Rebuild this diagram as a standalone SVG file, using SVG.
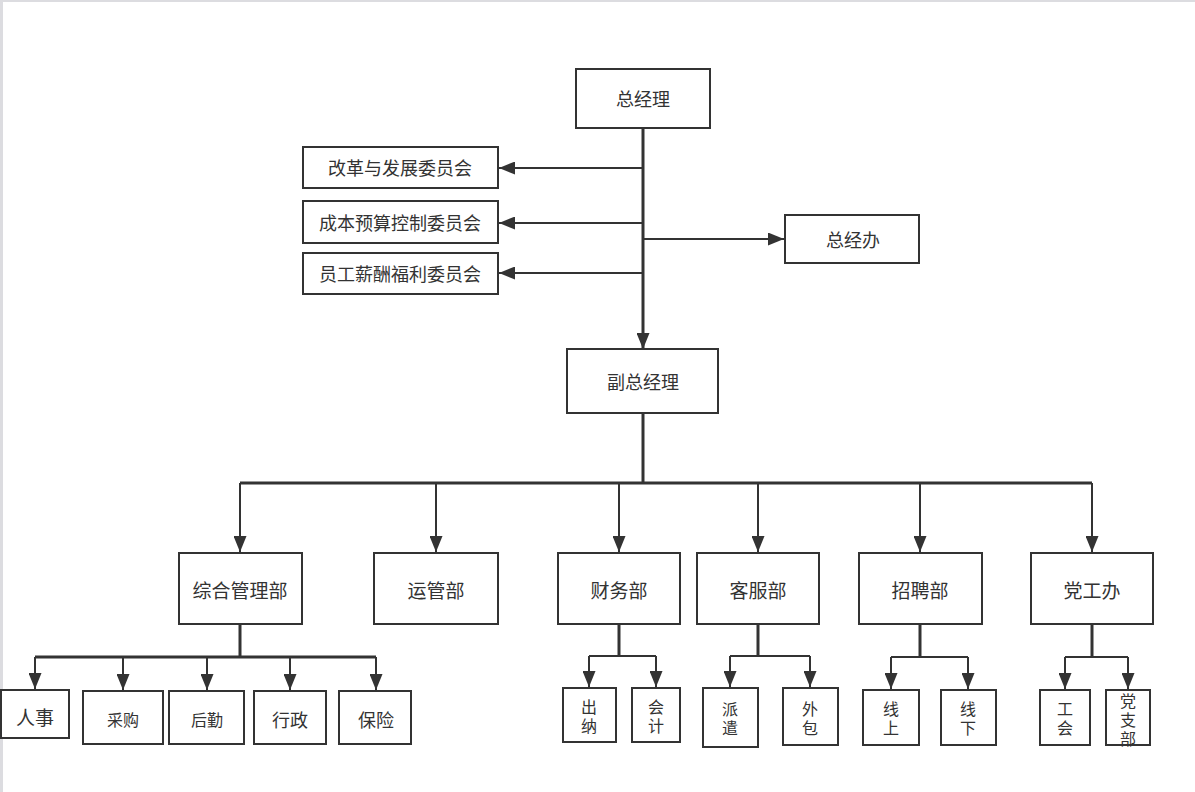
<svg xmlns="http://www.w3.org/2000/svg" width="1195" height="792" viewBox="0 0 1195 792">
<style>
.box{fill:#fff;stroke:#333;stroke-width:2}
.t{font-family:"Noto Sans CJK SC","Noto Sans",sans-serif;fill:#333;text-anchor:middle;dominant-baseline:central}
.v{font-family:"Noto Sans CJK SC","Noto Sans",sans-serif;fill:#333;text-anchor:middle;dominant-baseline:central;writing-mode:vertical-rl;font-size:16px;letter-spacing:3px}
.l{fill:none;stroke:#333;stroke-width:2}
.th{fill:none;stroke:#333;stroke-width:3}
</style>
<defs>
<marker id="arr" markerUnits="userSpaceOnUse" markerWidth="16" markerHeight="13" refX="16" refY="6.5" orient="auto">
<path d="M0,0 L16,6.5 L0,13 z" fill="#333"/>
</marker>
</defs>
<rect x="0" y="0" width="1195" height="792" fill="#fff"/>
<rect x="0" y="0" width="3" height="792" fill="#dcdce0"/>
<rect x="0" y="0" width="1195" height="2" fill="#dcdce0"/>

<g id="connectors">
<path class="th" d="M643,128 V349" marker-end="url(#arr)"/>
<path class="l" d="M643,168 H499" marker-end="url(#arr)"/>
<path class="l" d="M643,223 H499" marker-end="url(#arr)"/>
<path class="l" d="M643,273 H499" marker-end="url(#arr)"/>
<path class="l" d="M643,239 H784" marker-end="url(#arr)"/>
<path class="th" d="M643,413 V483"/>
<path class="th" d="M240,483 H1092"/>
<path class="l" d="M240,483 V552" marker-end="url(#arr)"/>
<path class="l" d="M436,483 V552" marker-end="url(#arr)"/>
<path class="l" d="M619,483 V552" marker-end="url(#arr)"/>
<path class="l" d="M758,483 V552" marker-end="url(#arr)"/>
<path class="l" d="M920,483 V552" marker-end="url(#arr)"/>
<path class="l" d="M1092,483 V552" marker-end="url(#arr)"/>

<path class="th" d="M240,624 V657"/>
<path class="th" d="M35,657 H376"/>
<path class="l" d="M35,657 V689" marker-end="url(#arr)"/>
<path class="l" d="M123,657 V690" marker-end="url(#arr)"/>
<path class="l" d="M207,657 V690" marker-end="url(#arr)"/>
<path class="l" d="M290,657 V690" marker-end="url(#arr)"/>
<path class="l" d="M376,657 V690" marker-end="url(#arr)"/>

<path class="th" d="M619,624 V656"/>
<path class="l" d="M589,656 H656"/>
<path class="l" d="M589,656 V687" marker-end="url(#arr)"/>
<path class="l" d="M656,656 V687" marker-end="url(#arr)"/>

<path class="th" d="M758,624 V656"/>
<path class="l" d="M730,656 H810"/>
<path class="l" d="M730,656 V687" marker-end="url(#arr)"/>
<path class="l" d="M810,656 V687" marker-end="url(#arr)"/>

<path class="th" d="M920,624 V657"/>
<path class="l" d="M891,657 H968"/>
<path class="l" d="M891,657 V689" marker-end="url(#arr)"/>
<path class="l" d="M968,657 V689" marker-end="url(#arr)"/>

<path class="th" d="M1092,624 V657"/>
<path class="l" d="M1065,657 H1128"/>
<path class="l" d="M1065,657 V689" marker-end="url(#arr)"/>
<path class="l" d="M1128,657 V689" marker-end="url(#arr)"/>
</g>

<g id="n-zjl"><rect class="box" x="576" y="69" width="134" height="59"/><text class="t" x="643" y="98" font-size="18">总经理</text></g>
<g id="n-gg"><rect class="box" x="303" y="147" width="195" height="41"/><text class="t" x="400" y="167" font-size="18">改革与发展委员会</text></g>
<g id="n-cb"><rect class="box" x="303" y="201" width="195" height="42"/><text class="t" x="400" y="222" font-size="18">成本预算控制委员会</text></g>
<g id="n-yg"><rect class="box" x="303" y="253" width="195" height="41"/><text class="t" x="400" y="273" font-size="18">员工薪酬福利委员会</text></g>
<g id="n-zjb"><rect class="box" x="785" y="215" width="134" height="48"/><text class="t" x="853" y="239" font-size="18">总经办</text></g>
<g id="n-fzjl"><rect class="box" x="567" y="349" width="151" height="64"/><text class="t" x="643" y="381" font-size="18">副总经理</text></g>

<g id="n-zh"><rect class="box" x="179" y="553" width="123" height="71"/><text class="t" x="240" y="589" font-size="19">综合管理部</text></g>
<g id="n-yy"><rect class="box" x="374" y="553" width="124" height="71"/><text class="t" x="436" y="589" font-size="19">运管部</text></g>
<g id="n-cw"><rect class="box" x="558" y="553" width="122" height="71"/><text class="t" x="619" y="589" font-size="19">财务部</text></g>
<g id="n-kf"><rect class="box" x="697" y="553" width="122" height="71"/><text class="t" x="758" y="589" font-size="19">客服部</text></g>
<g id="n-zp"><rect class="box" x="859" y="553" width="123" height="71"/><text class="t" x="920" y="589" font-size="19">招聘部</text></g>
<g id="n-dgb"><rect class="box" x="1031" y="553" width="122" height="71"/><text class="t" x="1092" y="589" font-size="19">党工办</text></g>

<g id="n-rs"><rect class="box" x="1" y="690" width="68" height="48"/><text class="t" x="35" y="716" font-size="19">人事</text></g>
<g id="n-cg"><rect class="box" x="83" y="691" width="80" height="53"/><text class="t" x="123" y="719" font-size="16">采购</text></g>
<g id="n-hq"><rect class="box" x="169" y="691" width="75" height="53"/><text class="t" x="207" y="719" font-size="16">后勤</text></g>
<g id="n-xz"><rect class="box" x="254" y="691" width="72" height="53"/><text class="t" x="290" y="719" font-size="18">行政</text></g>
<g id="n-bx"><rect class="box" x="339" y="691" width="72" height="53"/><text class="t" x="376" y="719" font-size="18">保险</text></g>

<g id="n-cn"><rect class="box" x="563" y="688" width="53" height="54"/><text class="v" x="589" y="718">出纳</text></g>
<g id="n-kj"><rect class="box" x="632" y="688" width="48" height="54"/><text class="v" x="656" y="718">会计</text></g>
<g id="n-pq"><rect class="box" x="703" y="688" width="55" height="59"/><text class="v" x="730" y="720">派遣</text></g>
<g id="n-wb"><rect class="box" x="783" y="688" width="55" height="57"/><text class="v" x="810" y="720">外包</text></g>
<g id="n-xs"><rect class="box" x="863" y="690" width="56" height="55"/><text class="v" x="891" y="720">线上</text></g>
<g id="n-xx"><rect class="box" x="941" y="690" width="55" height="55"/><text class="v" x="968" y="720">线下</text></g>
<g id="n-gh"><rect class="box" x="1040" y="690" width="50" height="55"/><text class="v" x="1065" y="720">工会</text></g>
<g id="n-dzb"><rect class="box" x="1106" y="690" width="44" height="55"/><text class="v" x="1128" y="721">党支部</text></g>
</svg>
